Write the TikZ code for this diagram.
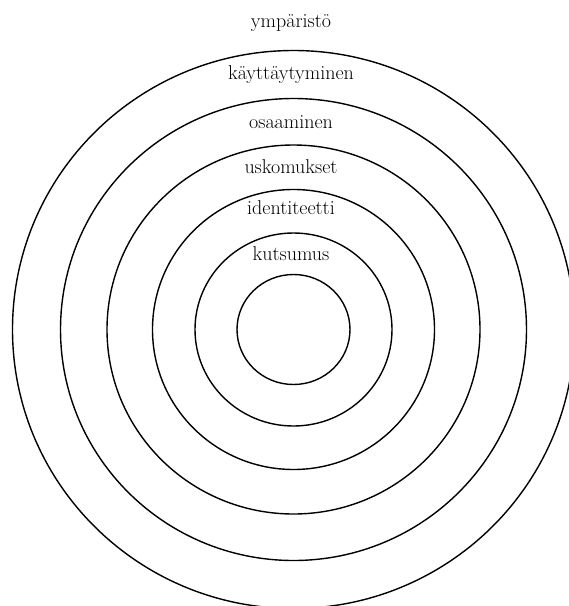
\documentclass[tikz,border=0pt]{standalone}
\usetikzlibrary{shapes.geometric}
\begin{document}
\begin{tikzpicture}[x=1pt,y=-1pt,
  ring/.style={draw=black, ellipse, line width=1.4pt, inner sep=0pt, outer sep=0pt},
  lbl/.style={anchor=base, inner sep=0pt, font=\fontsize{20}{22}\selectfont}]
\useasboundingbox (0,0) rectangle (569,606);
\clip (0,0) rectangle (569,606);
\coordinate (ctr) at (293.5,329.5);
\node[ring, minimum width=562pt, minimum height=558pt] (r1) at (ctr) {};
\node[ring, minimum width=466pt, minimum height=462pt] (r2) at (ctr) {};
\node[ring, minimum width=373pt, minimum height=369pt] (r3) at (ctr) {};
\node[ring, minimum width=282pt, minimum height=280pt] (r4) at (ctr) {};
\node[ring, minimum width=197pt, minimum height=193pt] (r5) at (ctr) {};
\node[ring, minimum width=113pt, minimum height=110pt] (r6) at (ctr) {};
\node[lbl] (l1) at (291,27) {ympäristö};
\node[lbl] (l2) at (291,79) {käyttäytyminen};
\node[lbl] (l3) at (291,128) {osaaminen};
\node[lbl] (l4) at (291,173) {uskomukset};
\node[lbl] (l5) at (291,214) {identiteetti};
\node[lbl] (l6) at (291,260) {kutsumus};
\end{tikzpicture}
\end{document}
